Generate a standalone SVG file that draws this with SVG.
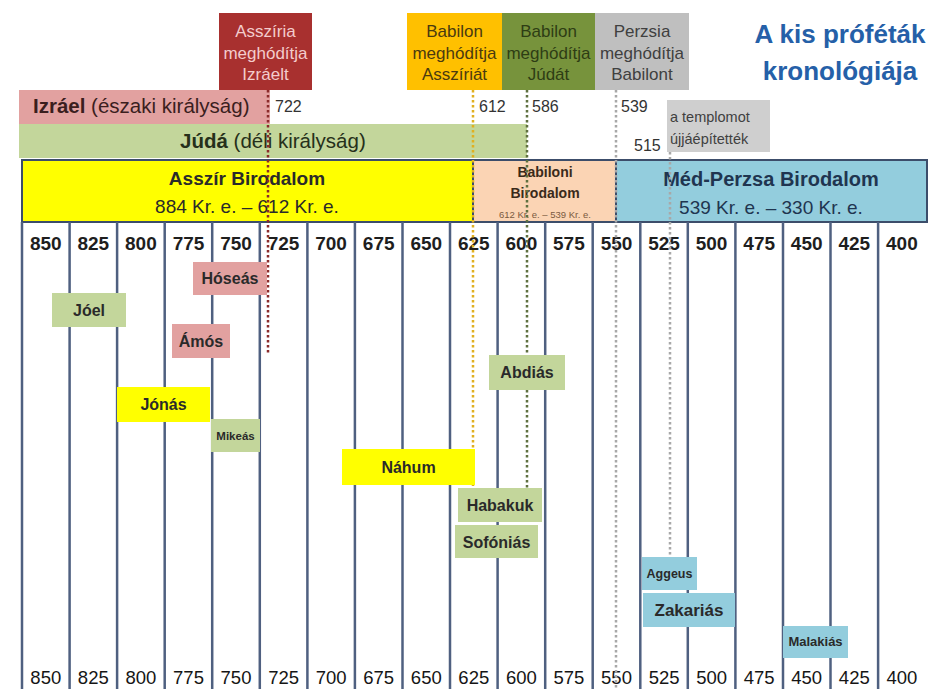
<svg xmlns="http://www.w3.org/2000/svg" width="931" height="689" viewBox="0 0 931 689">
<style>
text{font-family:"Liberation Sans",Arial,sans-serif}
.b{font-weight:bold}
.yr{font-size:19px;font-weight:bold;fill:#1e1e1e;text-anchor:middle}
.yb{font-size:18.5px;fill:#151515;text-anchor:middle}
.grid{stroke:#4f6080;stroke-width:2.5}
.pn{font-size:16px;font-weight:bold;fill:#2a2a2a;text-anchor:middle}
.top{font-size:17px;text-anchor:middle}
.lbl{font-size:16px;fill:#333}
.pink{fill:#e2a1a0}
.green{fill:#c3d69b}
.yel{fill:#ffff00}
.blue{fill:#93cddd}
.dot{fill:none;stroke-width:2.5;stroke-dasharray:2.5 2.5}
</style>
<rect width="931" height="689" fill="#ffffff"/>

<g id="title">
<text x="840" y="43" class="b" font-size="26" fill="#2560a8" text-anchor="middle">A kis próféták</text>
<text x="840" y="80" class="b" font-size="26" fill="#2560a8" text-anchor="middle">kronológiája</text>
</g>

<g id="kingdoms">
<g id="izrael"><rect x="19" y="90" width="251" height="34" class="pink"/>
<text x="33" y="113" font-size="20.5" fill="#3b1e1e"><tspan class="b">Izráel</tspan> (északi királyság)</text></g>
<g id="juda"><rect x="19" y="124" width="508" height="34" class="green"/>
<text x="180" y="148" font-size="20.5" fill="#26301a"><tspan class="b">Júdá</tspan> (déli királyság)</text></g>
</g>

<g id="events">
<g id="asszir-izrael"><rect x="219" y="13" width="93" height="77" fill="#a8302f"/>
<text class="top" fill="#f3cccc"><tspan x="265.5" y="37">Asszíria</tspan><tspan x="265.5" y="59">meghódítja</tspan><tspan x="265.5" y="80">Izráelt</tspan></text></g>
<g id="babilon-asszir"><rect x="407" y="13" width="95" height="77" fill="#ffc000"/>
<text class="top" fill="#4a3a10"><tspan x="454.5" y="37">Babilon</tspan><tspan x="454.5" y="59">meghódítja</tspan><tspan x="454.5" y="80">Asszíriát</tspan></text></g>
<g id="babilon-juda"><rect x="502" y="13" width="93" height="77" fill="#77933c"/>
<text class="top" fill="#2e3d14"><tspan x="548.5" y="37">Babilon</tspan><tspan x="548.5" y="59">meghódítja</tspan><tspan x="548.5" y="80">Júdát</tspan></text></g>
<g id="perzsia-babilon"><rect x="595" y="13" width="94" height="77" fill="#bfbfbf"/>
<text class="top" fill="#404040"><tspan x="642" y="37">Perzsia</tspan><tspan x="642" y="59">meghódítja</tspan><tspan x="642" y="80">Babilont</tspan></text></g>
<g id="templom"><rect x="667" y="100" width="103" height="52" fill="#cfcfcf"/>
<text font-size="14.5" fill="#404040"><tspan x="670" y="122">a templomot</tspan><tspan x="670" y="144">újjáépítették</tspan></text></g>
<text x="275" y="112" class="lbl">722</text>
<text x="479" y="112" class="lbl">612</text>
<text x="532" y="112" class="lbl">586</text>
<text x="621" y="112" class="lbl">539</text>
<text x="634" y="151" class="lbl">515</text>
</g>

<g id="empires" stroke="#3c4d6a" stroke-width="2">
<g id="asszir"><rect x="22" y="160" width="451" height="62" class="yel"/>
<text x="247" y="185" class="b" font-size="19" fill="#2a2a2a" stroke="none" text-anchor="middle">Asszír Birodalom</text>
<text x="247" y="213" font-size="19" fill="#2a2a2a" stroke="none" text-anchor="middle">884 Kr. e. – 612 Kr. e.</text></g>
<g id="babiloni"><rect x="473" y="160" width="143" height="62" fill="#fbd4b4"/>
<text x="545" y="177" class="b" font-size="14" fill="#3a2a1a" stroke="none" text-anchor="middle">Babiloni</text>
<text x="545" y="198" class="b" font-size="14" fill="#3a2a1a" stroke="none" text-anchor="middle">Birodalom</text>
<text x="545" y="218" font-size="9.5" fill="#7a5a40" stroke="none" text-anchor="middle">612 Kr. e. – 539 Kr. e.</text></g>
<g id="medperzsa"><rect x="616" y="160" width="311" height="62" class="blue"/>
<text x="771" y="186" class="b" font-size="20" fill="#1f3550" stroke="none" text-anchor="middle">Méd-Perzsa Birodalom</text>
<text x="771" y="214" font-size="19" fill="#1f3550" stroke="none" text-anchor="middle">539 Kr. e. – 330 Kr. e.</text></g>
</g>

<g id="grid">
<line x1="22" y1="222" x2="22" y2="689" class="grid"/>
<line x1="69.6" y1="222" x2="69.6" y2="689" class="grid"/>
<line x1="117.1" y1="222" x2="117.1" y2="689" class="grid"/>
<line x1="164.7" y1="222" x2="164.7" y2="689" class="grid"/>
<line x1="212.2" y1="222" x2="212.2" y2="689" class="grid"/>
<line x1="259.8" y1="222" x2="259.8" y2="689" class="grid"/>
<line x1="307.4" y1="222" x2="307.4" y2="689" class="grid"/>
<line x1="354.9" y1="222" x2="354.9" y2="689" class="grid"/>
<line x1="402.5" y1="222" x2="402.5" y2="689" class="grid"/>
<line x1="450" y1="222" x2="450" y2="689" class="grid"/>
<line x1="497.6" y1="222" x2="497.6" y2="689" class="grid"/>
<line x1="545.2" y1="222" x2="545.2" y2="689" class="grid"/>
<line x1="592.7" y1="222" x2="592.7" y2="689" class="grid"/>
<line x1="640.3" y1="222" x2="640.3" y2="689" class="grid"/>
<line x1="687.8" y1="222" x2="687.8" y2="689" class="grid"/>
<line x1="735.4" y1="222" x2="735.4" y2="689" class="grid"/>
<line x1="783" y1="222" x2="783" y2="689" class="grid"/>
<line x1="830.5" y1="222" x2="830.5" y2="689" class="grid"/>
<line x1="878.1" y1="222" x2="878.1" y2="689" class="grid"/>
</g>

<g id="years-top">
<text x="45.8" y="250" class="yr">850</text><text x="93.3" y="250" class="yr">825</text><text x="140.9" y="250" class="yr">800</text><text x="188.5" y="250" class="yr">775</text><text x="236" y="250" class="yr">750</text><text x="283.6" y="250" class="yr">725</text><text x="331.1" y="250" class="yr">700</text><text x="378.7" y="250" class="yr">675</text><text x="426.3" y="250" class="yr">650</text><text x="473.8" y="250" class="yr">625</text><text x="521.4" y="250" class="yr">600</text><text x="568.9" y="250" class="yr">575</text><text x="616.5" y="250" class="yr">550</text><text x="664.1" y="250" class="yr">525</text><text x="711.6" y="250" class="yr">500</text><text x="759.2" y="250" class="yr">475</text><text x="806.7" y="250" class="yr">450</text><text x="854.3" y="250" class="yr">425</text><text x="901.9" y="250" class="yr">400</text>
</g>
<g id="years-bottom">
<text x="45.8" y="684" class="yb">850</text><text x="93.3" y="684" class="yb">825</text><text x="140.9" y="684" class="yb">800</text><text x="188.5" y="684" class="yb">775</text><text x="236" y="684" class="yb">750</text><text x="283.6" y="684" class="yb">725</text><text x="331.1" y="684" class="yb">700</text><text x="378.7" y="684" class="yb">675</text><text x="426.3" y="684" class="yb">650</text><text x="473.8" y="684" class="yb">625</text><text x="521.4" y="684" class="yb">600</text><text x="568.9" y="684" class="yb">575</text><text x="616.5" y="684" class="yb">550</text><text x="664.1" y="684" class="yb">525</text><text x="711.6" y="684" class="yb">500</text><text x="759.2" y="684" class="yb">475</text><text x="806.7" y="684" class="yb">450</text><text x="854.3" y="684" class="yb">425</text><text x="901.9" y="684" class="yb">400</text>
</g>

<g id="connectors">
<line x1="268" y1="90" x2="268" y2="354" class="dot" stroke="#8b2a2a"/>
<line x1="473" y1="90" x2="473" y2="486" class="dot" stroke="#e0b020"/>
<line x1="527" y1="90" x2="527" y2="488" class="dot" stroke="#5f7040"/>
<line x1="616" y1="90" x2="616" y2="689" class="dot" stroke="#a8a8a8"/>
<line x1="670" y1="152" x2="670" y2="557" class="dot" stroke="#a8a8a8"/>
</g>

<g id="prophets">
<g id="hoseas"><rect x="193" y="262" width="74" height="33" class="pink"/><text x="230" y="284" class="pn" fill="#4a1a1a">Hóseás</text></g>
<g id="joel"><rect x="52" y="293" width="74" height="34" class="green"/><text x="89" y="316" class="pn">Jóel</text></g>
<g id="amos"><rect x="172" y="324" width="58" height="34" class="pink"/><text x="201" y="347" class="pn" fill="#4a1a1a">Ámós</text></g>
<g id="jonas"><rect x="117" y="387" width="93" height="35" class="yel"/><text x="163.5" y="410" class="pn">Jónás</text></g>
<g id="mikeas"><rect x="211" y="419" width="49" height="33" class="green"/><text x="235.5" y="440" class="pn" style="font-size:11.5px">Mikeás</text></g>
<g id="abdias"><rect x="489" y="355" width="76" height="35" class="green"/><text x="527" y="378" class="pn">Abdiás</text></g>
<g id="nahum"><rect x="342" y="449" width="133" height="36" class="yel"/><text x="408.5" y="473" class="pn">Náhum</text></g>
<g id="habakuk"><rect x="458" y="488" width="84" height="34" class="green"/><text x="500" y="511" class="pn">Habakuk</text></g>
<g id="sofonias"><rect x="455" y="525" width="83" height="33" class="green"/><text x="496.5" y="548" class="pn">Sofóniás</text></g>
<g id="aggeus"><rect x="642" y="557" width="55" height="33" class="blue"/><text x="669.5" y="578" class="pn" style="font-size:12.5px">Aggeus</text></g>
<g id="zakarias"><rect x="643" y="593" width="92" height="34" class="blue"/><text x="689" y="616" class="pn" style="font-size:17px">Zakariás</text></g>
<g id="malakias"><rect x="783" y="626" width="65" height="32" class="blue"/><text x="815.5" y="646" class="pn" style="font-size:13px">Malakiás</text></g>
</g>
</svg>
